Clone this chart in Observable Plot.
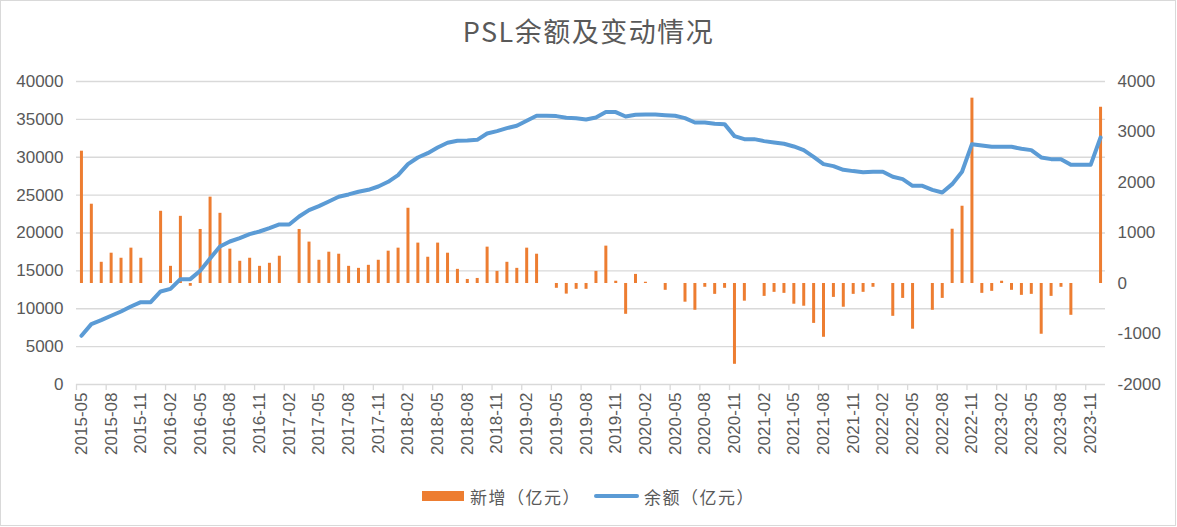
<!DOCTYPE html>
<html>
<head>
<meta charset="utf-8">
<script src="https://cdn.jsdelivr.net/npm/d3@7"></script>
<script src="https://cdn.jsdelivr.net/npm/@observablehq/plot@0.6"></script>
<style>
  html, body { margin: 0; padding: 0; background: #fff; }
  body { width: 1177px; height: 527px; position: relative; overflow: hidden; }
  #frame { position: absolute; left: 0; top: 0; width: 1176px; height: 526px; box-sizing: border-box; border: 1.5px solid #d9d9d9; }
  #title { position: absolute; left: 0; top: 12px; width: 1177px; text-align: center; font-family: "Noto Sans CJK SC", sans-serif; font-size: 27px; line-height: 38px; letter-spacing: 1.5px; color: #595959; }
  #chart { position: absolute; left: 0; top: 62px; }
  #legend { position: absolute; left: 0; top: 483px; width: 1177px; height: 26px; display: flex; justify-content: center; align-items: center; font-family: "Noto Sans CJK SC", sans-serif; font-size: 17px; letter-spacing: 1.5px; color: #595959; }
  .sw-bar { width: 42px; height: 10px; background: #ED7D31; margin-right: 6px; }
  .sw-line { width: 45px; height: 4px; border-radius: 2px; background: #5B9BD5; margin-left: 13px; margin-right: 5px; }
</style>
</head>
<body>
<div id="frame"></div>
<div id="title">PSL余额及变动情况</div>
<div id="chart"></div>
<div id="legend">
  <span class="sw-bar"></span><span>新增（亿元）</span>
  <span class="sw-line"></span><span>余额（亿元）</span>
</div>
<script>
// Monthly categories, 2015-05 through 2023-12
const months = d3.utcMonth
  .range(new Date(Date.UTC(2015, 4, 1)), new Date(Date.UTC(2024, 0, 1)))
  .map(d3.utcFormat("%Y-%m"));

// Monthly new PSL (亿元), right axis
const change = [
  2620, 1570, 420, 600, 500, 700, 500, 0, 1430, 340,
  1330, -55, 1070, 1710, 1390, 680, 440, 500, 340, 400,
  540, 0, 1070, 820, 460, 620, 580, 340, 300, 360,
  460, 640, 700, 1490, 800, 520, 800, 600, 280, 80,
  100, 720, 240, 420, 300, 700, 580, 0, -95, -210,
  -115, -115, 240, 740, 45, -610, 180, 25, 0, -135,
  0, -370, -530, -75, -215, -95, -1600, -350, 0, -255,
  -175, -195, -410, -450, -790, -1065, -275, -470, -215, -175,
  -75, 0, -650, -295, -905, 0, -530, -295, 1075, 1530,
  3670, -195, -155, 45, -135, -235, -215, -1005, -255, -75,
  -630, 0, 0, 3490
];

// PSL balance (亿元), left axis
const balance = [
  6430, 7970, 8490, 9070, 9640, 10300, 10870, 10870, 12280, 12630,
  13910, 13910, 15010, 16640, 18220, 18880, 19320, 19850, 20200, 20640,
  21130, 21130, 22180, 23020, 23550, 24160, 24780, 25090, 25440, 25700,
  26140, 26760, 27640, 29090, 29970, 30540, 31290, 31910, 32170, 32220,
  32300, 33140, 33450, 33840, 34150, 34810, 35470, 35470, 35430, 35210,
  35160, 34990, 35250, 35960, 35960, 35380, 35600, 35650, 35650, 35560,
  35470, 35160, 34590, 34590, 34420, 34370, 32790, 32390, 32390, 32130,
  31950, 31780, 31420, 30940, 30060, 29090, 28830, 28340, 28170, 28030,
  28080, 28080, 27420, 27110, 26230, 26230, 25700, 25350, 26450, 28080,
  31730, 31560, 31380, 31380, 31380, 31120, 30940, 29970, 29750, 29750,
  29000, 29000, 29000, 32610
];

// Axis ticks
const leftTicks = [0, 5000, 10000, 15000, 20000, 25000, 30000, 35000, 40000];
const rightTicks = [-2000, -1000, 0, 1000, 2000, 3000, 4000];
const labelStep = 3;

// Right axis [-2000, 4000] shares the left axis range [0, 40000]
const leftDomain = [0, 40000];
const rightDomain = [-2000, 4000];
const toLeft = v => leftDomain[0] + (v - rightDomain[0]) * (leftDomain[1] - leftDomain[0]) / (rightDomain[1] - rightDomain[0]);
const fromLeft = v => rightDomain[0] + (v - leftDomain[0]) * (rightDomain[1] - rightDomain[0]) / (leftDomain[1] - leftDomain[0]);

const rows = months.map((m, i) => ({i, month: m, change: change[i], balance: balance[i]}));
const labelIdx = d3.range(0, months.length, labelStep);
const boundaries = labelIdx.map(i => i - 0.5);

const chart = Plot.plot({
  width: 1177,
  height: 410,
  marginLeft: 76,
  marginRight: 72,
  marginTop: 19,
  marginBottom: 88,
  x: {type: "linear", domain: [-0.5, months.length - 0.5], axis: null},
  y: {domain: leftDomain, axis: null},
  style: {fontFamily: "'Liberation Sans', Arial, sans-serif", fontSize: "17px", color: "#595959", background: "transparent", overflow: "visible"},
  marks: [
    Plot.gridY(leftTicks, {stroke: "#d9d9d9", strokeOpacity: 1, strokeWidth: 1.3}),
    Plot.axisY(leftTicks, {anchor: "left", label: null, tickSize: 0, tickPadding: 13, tickFormat: d => String(d)}),
    Plot.axisY(rightTicks.map(toLeft), {anchor: "right", label: null, tickSize: 0, tickPadding: 12, tickFormat: v => String(Math.round(fromLeft(v)))}),
    Plot.axisX(boundaries, {anchor: "bottom", label: null, tickSize: 6, stroke: "#d9d9d9", strokeOpacity: 1, strokeWidth: 1.3, tickFormat: () => ""}),
    Plot.axisX(labelIdx, {anchor: "bottom", label: null, tickSize: 0, tickPadding: 8, tickRotate: -90, tickFormat: i => months[i]}),
    Plot.ruleX(rows, {x: "i", y1: () => toLeft(0), y2: d => toLeft(d.change), stroke: "#ED7D31", strokeWidth: 3}),
    Plot.line(rows, {x: "i", y: "balance", stroke: "#5B9BD5", strokeWidth: 4, strokeLinejoin: "round", strokeLinecap: "round"})
  ]
});
document.getElementById("chart").appendChild(chart);
</script>
</body>
</html>
